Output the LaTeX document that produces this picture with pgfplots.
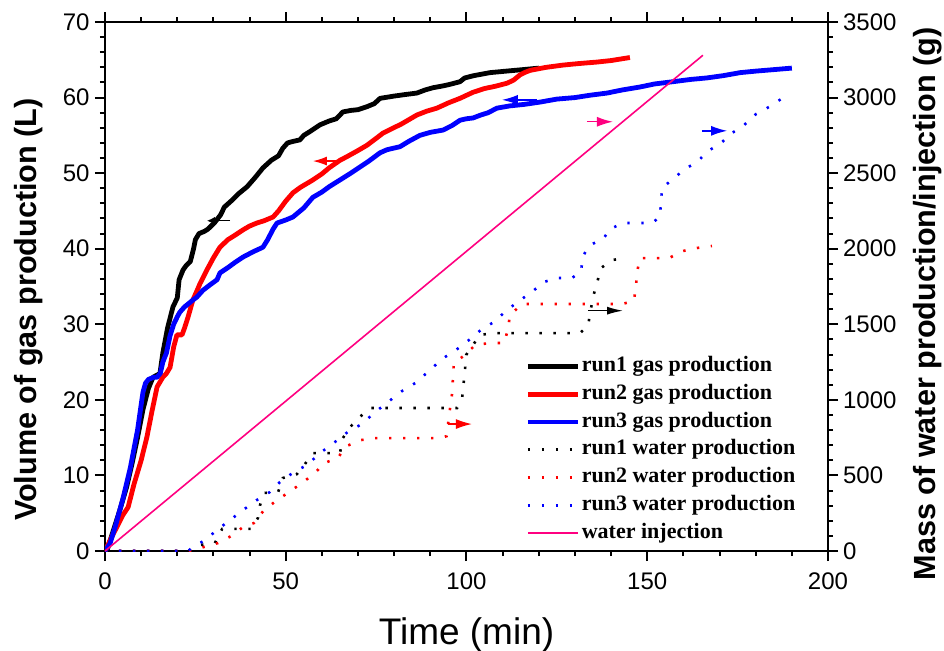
\documentclass[border=0pt]{standalone}
\usepackage{fontspec}
\setmainfont{Liberation Sans}
\newfontfamily\legfont{Liberation Serif}
\usepackage{pgfplots}
\pgfplotsset{compat=1.18}
\usetikzlibrary{arrows.meta}
\definecolor{injpink}{RGB}{255,0,128}

\begin{document}
\begin{tikzpicture}
\pgfplotsset{
  common/.style={
    scale only axis, width=361.5pt, height=264.5pt,
    xmin=0, xmax=200,
    axis line style={line width=1.2pt},
    every tick/.style={line width=1pt, black},
    major tick length=5pt, minor tick length=2.5pt,
    tick align=outside,
    /pgf/number format/assume math mode=true,
    /pgf/number format/1000 sep={},
    tick label style={font=\fontsize{12}{14}\selectfont},
    clip=true,
  }
}
\begin{axis}[common,
  ymin=0, ymax=70,
  xtick={0,50,...,200}, minor x tick num=4,
  ytick={0,10,...,70}, minor y tick num=4,
  xtick pos=both, xticklabel pos=bottom,
  ytick pos=left,
  xticklabel style={yshift=-2.5pt},
  yticklabel style={xshift=0.8pt},
  xlabel={Time (min)},
  xlabel style={font=\fontsize{18.5}{20}\selectfont, at={(axis description cs:0.5,-0.1758)}, anchor=base},
  ylabel={Volume of gas production (L)},
  ylabel style={font=\bfseries\fontsize{15.3}{17}\selectfont, at={(axis description cs:-0.09405,0.4565)}, anchor=base},
  line join=round,
]
% run1 gas
\addplot[black, line width=2.4pt] coordinates {
(0.5,0) (1.5,1.5) (4.1,5.4) (6,8.5) (7.5,11.6) (9,15) (10.5,18.7) (12,21.5) (13.3,23) (14.5,23.3) (15.2,23.5)
(16,26.2) (17.3,29.5) (18.8,32.3) (20,33.5) (20.5,35.9) (21.6,37.2) (22.5,37.8) (23.6,38.3) (24.5,40) (25,41.2)
(26,42) (27.5,42.3) (28.5,42.6) (30.4,43.5) (32,44.5) (33,45.5) (35.1,46.4) (37,47.3) (39.3,48.2) (41.5,49.4)
(43.7,50.7) (46,51.7) (48,52.3) (49.2,53.3) (50.5,54) (52,54.2) (53.9,54.4) (55,55) (57,55.6) (59.5,56.4)
(62,56.9) (64,57.2) (65.8,58.1) (68,58.3) (70,58.4) (72.5,58.8) (74.5,59.2) (76.1,59.9) (80,60.2) (83,60.4)
(86.3,60.6) (88.5,61) (90.7,61.3) (93,61.5) (95,61.7) (98.2,62.1) (99.5,62.6) (102,62.9) (106.5,63.3)
(111,63.5) (115.6,63.7) (120,63.9)
};
% run2 gas
\addplot[red, line width=2.4pt] coordinates {
(0,0) (1.5,1.5) (3.3,3.2) (5,4.8) (6.4,5.8) (8,8.8) (10,12) (11.6,15.1) (13,18.5) (14.4,21.7) (16,23) (17,23.5)
(18,24.3) (19,27) (19.9,28.6) (21.3,28.6) (22,29.5) (23,31) (24.3,33.2) (25.5,34.5) (26.3,35.4) (28.2,37.2)
(30,38.8) (31.8,40.2) (34,41.2) (36,41.8) (38.2,42.5) (40,43) (42,43.4) (44,43.7) (46.5,44.2) (48,45) (50,46.3)
(52,47.4) (54,48.1) (57.5,49.1) (60,49.9) (62,50.7) (65,51.7) (67,52.2) (70,53) (72.5,53.7) (75,54.6)
(76.9,55.3) (79,55.8) (82,56.5) (86.3,57.7) (89,58.2) (91.8,58.6) (95,59.3) (98.2,59.9) (101.8,60.7)
(105,61.2) (108,61.5) (111.2,61.9) (113,62.3) (114.8,63) (116,63.3) (117.6,63.6) (122,64) (126.7,64.3)
(131,64.5) (136.1,64.7) (140,64.9) (145.2,65.3)
};
% run3 gas
\addplot[blue, line width=2.4pt] coordinates {
(0,0) (1.4,1) (3,3.5) (5,7) (7,11) (9,16) (10.5,21) (11.2,22.2) (12,22.7) (13.5,23) (14.4,23) (15.3,23.5)
(16,25) (17,26.2) (18,28.5) (19,30) (20,31) (20.7,31.6) (22,32.3) (24.3,33.2) (25.4,33.6) (27.1,34.5) (29,35.2)
(31,35.9) (31.8,36.8) (34,37.5) (36,38.2) (38.2,38.9) (41,39.6) (43.7,40.2) (45,41.2) (46.5,42.6) (47.6,43.4)
(50,43.8) (52,44.2) (55,45.4) (57.5,46.8) (60,47.5) (62,48.2) (65,49.1) (68,50) (70.5,50.8) (73,51.6)
(76.1,52.7) (78,53.1) (81.6,53.5) (84,54.2) (87.1,55) (90,55.4) (93.5,55.7) (96,56.3) (98.2,57) (100,57.2)
(101.8,57.3) (104,57.7) (106,58) (108.4,58.6) (112,58.9) (116,59.1) (120.3,59.4) (125,59.8) (130,60)
(134,60.3) (138.9,60.6) (143,61) (148,61.4) (152,61.8) (157.1,62.1) (162,62.4) (166.5,62.6) (171,62.9)
(175.7,63.3) (180,63.5) (185,63.7) (190,63.9)
};
% annotation arrows
\draw[black, line width=0.7pt, -{Latex[length=4pt,width=4pt]}] (axis cs:34.6,43.7) -- (axis cs:28.2,43.7);
\draw[red, line width=0.7pt, -{Latex[length=7pt,width=4.5pt]}] (axis cs:64.2,51.6) -- (axis cs:57.5,51.6);
\draw[blue, line width=0.7pt, -{Latex[length=8pt,width=5pt]}] (axis cs:119.5,59.7) -- (axis cs:109.8,59.7);
\draw[injpink, line width=0.7pt, -{Latex[length=8pt,width=5pt]}] (axis cs:133.3,56.8) -- (axis cs:140.5,56.8);
\draw[blue, line width=0.7pt, -{Latex[length=8pt,width=5pt]}] (axis cs:165.1,55.6) -- (axis cs:172.1,55.6);
\draw[black, line width=0.7pt, -{Latex[length=8pt,width=4pt]}] (axis cs:133.6,31.8) -- (axis cs:143.3,31.8);
\draw[red, line width=0.7pt, -{Latex[length=8pt,width=5pt]}] (axis cs:94.9,16.8) -- (axis cs:101.5,16.8);
\end{axis}

\begin{axis}[common,
  ymin=0, ymax=3500,
  hide x axis,
  axis y line*=right,
  ytick={0,500,...,3500}, minor y tick num=4,
  yticklabel style={xshift=-1pt},
  ylabel={Mass of water production/injection (g)},
  ylabel style={font=\bfseries\fontsize{15.3}{17}\selectfont, at={(axis description cs:1.148,0.467)}, anchor=base},
  legend style={draw=none, fill=none, at={(axis description cs:0.581,0.376)}, anchor=north west,
    font=\legfont\bfseries\fontsize{11}{13}\selectfont, inner sep=0pt, row sep=0pt,
    nodes={inner sep=0pt, text height=9.5pt, text depth=4.4pt},
    /tikz/every odd column/.append style={column sep=0.8pt}},
  legend cell align=left,
  legend image code/.code={\draw[#1] (0pt,0pt) -- (25pt,0pt);},
  wdot/.style={line width=1.3pt, dash pattern=on 1.2pt off 5.8pt},
]
\addlegendimage{black, line width=2.4pt}
\addlegendentry{run1 gas production}
\addlegendimage{red, line width=2.4pt}
\addlegendentry{run2 gas production}
\addlegendimage{blue, line width=2.4pt}
\addlegendentry{run3 gas production}
% run1 water
\addplot[black, wdot] coordinates {
(0,0) (24,0) (26.3,40) (30.4,53) (32.4,146) (40.4,146) (42.3,218) (42.9,304) (44,384) (47.9,390) (49.2,483)
(53.1,509) (55.3,575) (57.5,648) (65,648) (65.8,747) (67.8,820) (70.5,887) (73.3,946) (97.4,946) (98.8,1012)
(99.6,1204) (99.9,1297) (103.7,1429) (107.3,1442) (131.4,1442) (133.6,1489) (135,1680) (136.1,1773)
(137.2,1872) (140.2,1925) (144.1,1938)
};
\addlegendentry{run1 water production}
% run2 water
\addplot[red, wdot] coordinates {
(0,0) (24,0) (27.4,27) (31.3,53) (34.9,99) (38.2,159) (41.2,185) (44,271) (47.3,331) (50.9,390) (54.5,450)
(58.1,516) (60.6,582) (64.5,615) (65.3,648) (66.9,695) (70.8,734) (74.7,747) (93,747) (94.5,760) (95.2,900)
(96,1039) (96.5,1244) (99.6,1297) (102.4,1363) (106.5,1376) (110.4,1376) (111.5,1469) (112,1561)
(115.4,1634) (143,1634) (146.3,1654) (146.9,1753) (147.2,1846) (148,1938) (156,1938) (159.9,1985)
(163.8,2005) (167.9,2018)
};
\addlegendentry{run2 water production}
% run3 water
\addplot[blue, wdot] coordinates {
(0,0) (23,0) (24,20) (27.7,73) (31,139) (34.6,205) (38.2,271) (42,337) (45.6,390) (48.4,456) (52.3,523)
(55.9,569) (59.5,648) (63.6,721) (67.5,794) (71.1,840) (74.4,913) (78.3,986) (82.2,1059) (85.8,1111)
(89.3,1184) (93.2,1270) (97.1,1330) (100.7,1396) (104.3,1469) (107.6,1515) (110.9,1588) (114.5,1654)
(118.1,1714) (121.4,1780) (125.3,1806) (129.2,1806) (131.7,1853) (132.2,1952) (134.2,2025) (137.8,2064)
(139.7,2130) (143.3,2170) (151.3,2170) (153.5,2210) (153.8,2302) (154.1,2402) (157.1,2461) (160.4,2527)
(163.8,2574) (166.8,2646) (170.4,2699) (173.4,2765) (176.5,2812) (180.1,2891) (183.7,2938) (187,2990)
};
\addlegendentry{run3 water production}
% water injection
\addplot[injpink, line width=0.8pt] coordinates {(0,0) (165.4,3280)};
\addlegendentry{water injection}
\end{axis}
\pgfresetboundingbox
\path[use as bounding box] (-52.5pt,-49.5pt) rectangle (419.5pt,275.5pt);
\end{tikzpicture}
\end{document}
